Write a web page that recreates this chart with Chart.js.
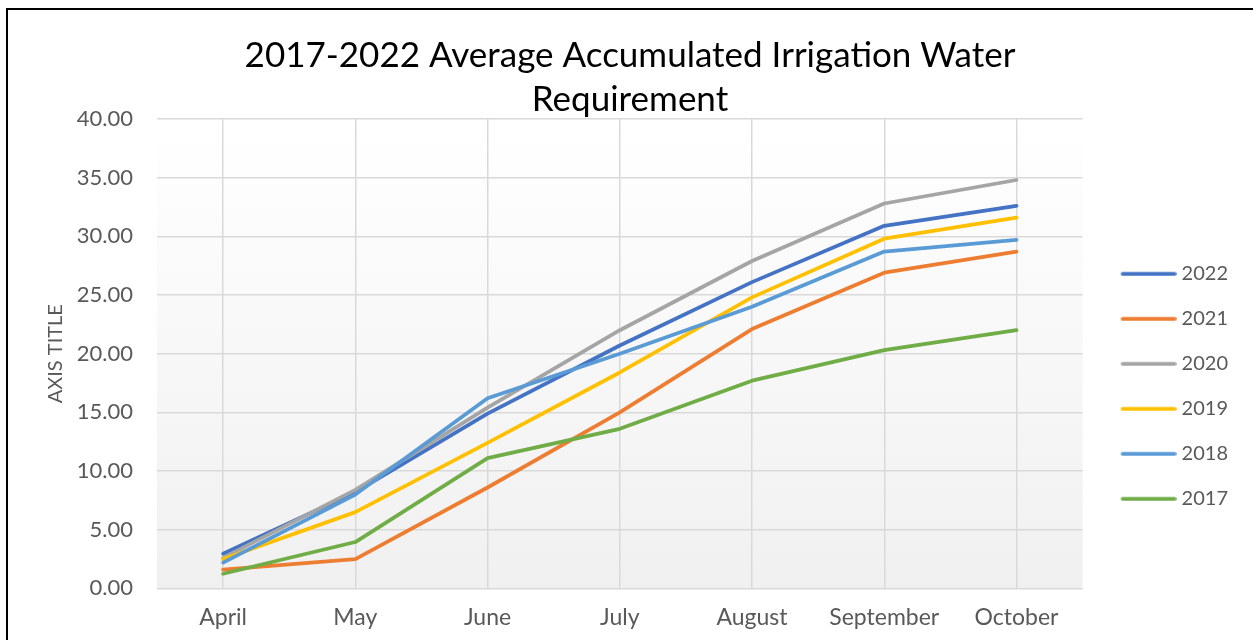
<!DOCTYPE html>
<html>
<head>
<meta charset="utf-8">
<title>Accumulated Irrigation Water Requirement</title>
<script src="https://cdn.jsdelivr.net/npm/chart.js@4.4.1/dist/chart.umd.min.js"></script>
<style>
  html, body { margin: 0; padding: 0; background: #fff; overflow: hidden; }
  #wrap { position: relative; width: 1253px; height: 640px; }
  #frame { position: absolute; left: 6px; top: 8px; width: 1300px; height: 700px;
           border: 2.5px solid #000; pointer-events: none; }
</style>
</head>
<body>
<div id="wrap">
  <canvas id="irrigation" width="1253" height="640"></canvas>
  <div id="frame"></div>
</div>
<script>
// months of the season
const months = ['April', 'May', 'June', 'July', 'August', 'September', 'October'];

// accumulated requirement per year
const y2017 = [1.25, 3.95, 11.1, 13.6, 17.7, 20.3, 22.0];
const y2018 = [2.2, 8.0, 16.2, 20.0, 24.0, 28.7, 29.7];
const y2019 = [2.5, 6.5, 12.4, 18.4, 24.8, 29.8, 31.6];
const y2020 = [2.6, 8.4, 15.4, 22.0, 27.9, 32.8, 34.8];
const y2021 = [1.6, 2.5, 8.6, 15.0, 22.1, 26.9, 28.7];
const y2022 = [2.95, 8.2, 14.9, 20.7, 26.1, 30.9, 32.6];

const years = ['2017', '2018', '2019', '2020', '2021', '2022'];
const series = [y2017, y2018, y2019, y2020, y2021, y2022];
const colors = ['#70AD47', '#5B9BD5', '#FFC000', '#A5A5A5', '#ED7D31', '#4472C4'];

const yMin = 0, yMax = 40, yStep = 5;

const FONT = 'Lato, Carlito, "Open Sans", sans-serif';
const GREY_TEXT = '#595959';

// soft white-to-grey fill behind the plot
const plotShade = {
  id: 'plotShade',
  beforeDraw(chart) {
    const { ctx, chartArea: a } = chart;
    const g = ctx.createLinearGradient(0, a.top, 0, a.bottom);
    g.addColorStop(0, '#ffffff');
    g.addColorStop(1, '#f0f0f0');
    ctx.save();
    ctx.fillStyle = g;
    ctx.fillRect(a.left, a.top, a.width, a.height);
    ctx.restore();
  }
};

// short line swatch for the legend
function swatch(color) {
  const c = document.createElement('canvas');
  c.width = 74;
  c.height = 6;
  const g = c.getContext('2d');
  g.strokeStyle = color;
  g.lineWidth = 3.75;
  g.lineCap = 'round';
  g.beginPath();
  g.moveTo(20, 3);
  g.lineTo(72, 3);
  g.stroke();
  return c;
}

const datasets = years.map((yr, i) => ({
  label: yr,
  data: series[i],
  borderColor: colors[i],
  backgroundColor: colors[i],
  borderWidth: 3.75,
  borderCapStyle: 'round',
  borderJoinStyle: 'round',
  pointRadius: 0,
  tension: 0,
  fill: false
}));

new Chart(document.getElementById('irrigation'), {
  type: 'line',
  data: { labels: months, datasets },
  plugins: [plotShade],
  options: {
    responsive: false,
    animation: false,
    layout: { padding: { left: 22, right: 15, top: 0, bottom: -6 } },
    plugins: {
      tooltip: { enabled: false },
      title: {
        display: true,
        text: ['2017-2022 Average Accumulated Irrigation Water', 'Requirement'],
        color: '#000',
        font: { family: FONT, size: 35, weight: 'normal', lineHeight: 1.257 },
        padding: { top: 34, bottom: -3 }
      },
      legend: {
        position: 'right',
        fullSize: false,
        align: 'center',
        reverse: true,
        title: { display: true, text: ' ', font: { size: 10, lineHeight: 1 }, padding: { top: 55, bottom: 0 } },
        labels: {
          usePointStyle: true,
          pointStyleWidth: 64,
          padding: 25,
          color: GREY_TEXT,
          font: { family: FONT, size: 20 },
          generateLabels(chart) {
            const items = Chart.defaults.plugins.legend.labels.generateLabels(chart);
            items.forEach(it => { it.pointStyle = swatch(it.strokeStyle); });
            return items;
          }
        }
      }
    },
    scales: {
      x: {
        offset: true,
        grid: { offset: false, color: '#d9d9d9', lineWidth: 1.5, drawTicks: false },
        border: { display: false },
        ticks: { padding: 15, color: GREY_TEXT, font: { family: FONT, size: 23 }, maxRotation: 0 }
      },
      y: {
        min: yMin,
        max: yMax,
        grid: { color: '#d9d9d9', lineWidth: 1.5, drawTicks: false },
        border: { display: false },
        ticks: {
          stepSize: yStep,
          padding: 24,
          color: GREY_TEXT,
          font: { family: FONT, size: 22 },
          callback: v => v.toFixed(2)
        },
        title: {
          display: true,
          text: 'AXIS TITLE',
          color: GREY_TEXT,
          font: { family: FONT, size: 20 },
          padding: { top: 22, bottom: 0 }
        },
        afterFit(scale) { scale.width = 135; }
      }
    }
  }
});
</script>
</body>
</html>
